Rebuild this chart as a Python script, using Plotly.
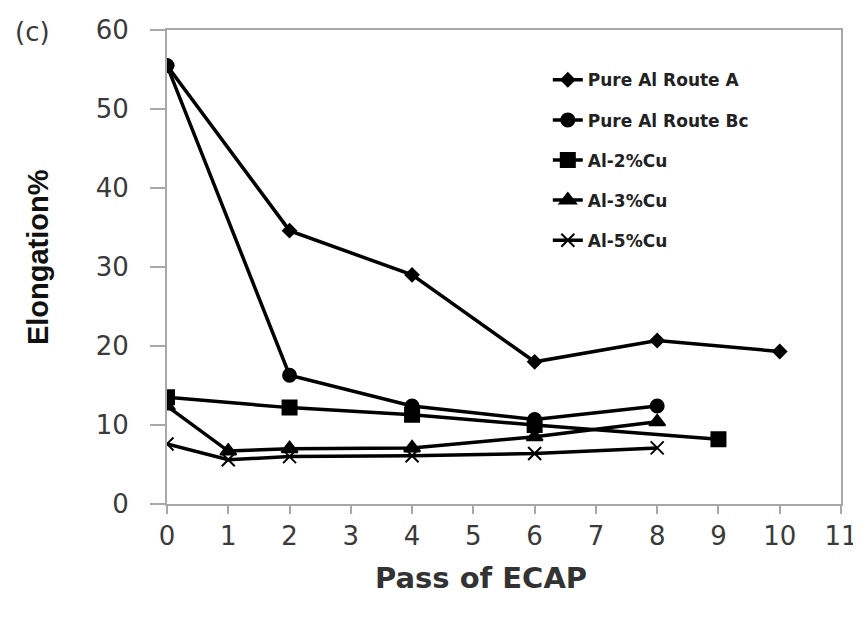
import plotly.graph_objects as go

passes_A = [0, 2, 4, 6, 8, 10]
elong_A = [55.5, 34.6, 29.0, 18.0, 20.7, 19.3]

passes_Bc = [0, 2, 4, 6, 8]
elong_Bc = [55.5, 16.3, 12.4, 10.7, 12.4]

passes_2Cu = [0, 2, 4, 6, 9]
elong_2Cu = [13.5, 12.2, 11.3, 10.0, 8.2]

passes_3Cu = [0, 1, 2, 4, 6, 8]
elong_3Cu = [12.4, 6.7, 7.0, 7.1, 8.5, 10.4]

passes_5Cu = [0, 1, 2, 4, 6, 8]
elong_5Cu = [7.6, 5.6, 6.0, 6.1, 6.4, 7.1]

x_ticks = list(range(0, 12))
y_ticks = [0, 10, 20, 30, 40, 50, 60]

series = [
    ("Pure Al Route A", passes_A, elong_A, "diamond", 10),
    ("Pure Al Route Bc", passes_Bc, elong_Bc, "circle", 13),
    ("Al-2%Cu", passes_2Cu, elong_2Cu, "square", 14),
    ("Al-3%Cu", passes_3Cu, elong_3Cu, "triangle-up", 14),
    ("Al-5%Cu", passes_5Cu, elong_5Cu, "x-thin", 13),
]

fig = go.Figure()
for i, (name, xs, ys, sym, sz) in enumerate(series):
    fig.add_trace(go.Scatter(
        x=xs, y=ys, name=name, mode="lines+markers", legendgroup=f"g{i}",
        line=dict(color="black", width=3.5),
        marker=dict(symbol=sym, size=sz, color="black",
                    line=dict(color="black", width=2)),
    ))

AXIS_GREY = "#a8a8a8"
TICK_FONT = dict(family="DejaVu Sans", size=26, color="#3a3a3a")

fig.update_layout(
    width=861, height=619,
    paper_bgcolor="white", plot_bgcolor="white",
    margin=dict(l=159, r=28, t=22, b=123, autoexpand=False),
    showlegend=True,
    legend=dict(
        x=0.565, y=0.932, xanchor="left", yanchor="top",
        bgcolor="rgba(255,255,255,0)",
        font=dict(family="DejaVu Sans", size=17, color="#222", weight="bold"),
        tracegroupgap=15,
        itemsizing="trace",
    ),
    xaxis=dict(
        range=[0, 11], tickvals=x_ticks, ticktext=[str(t) for t in x_ticks],
        showgrid=False, zeroline=False, automargin=False,
        showline=True, linecolor=AXIS_GREY, linewidth=2, mirror=True,
        ticks="outside", ticklen=8, tickcolor=AXIS_GREY, tickwidth=1.5,
        tickfont=TICK_FONT,
    ),
    yaxis=dict(
        range=[0, 60], tickvals=y_ticks, ticktext=[str(t) for t in y_ticks],
        showgrid=False, zeroline=False, automargin=False,
        showline=True, linecolor=AXIS_GREY, linewidth=2, mirror=True,
        ticks="outside", ticklen=15, tickcolor=AXIS_GREY, tickwidth=1.5,
        tickfont=TICK_FONT, ticklabelstandoff=16,
    ),
)

fig.add_annotation(text="(c)", xref="paper", yref="paper", x=-0.2285, y=0.996,
                   xanchor="left", yanchor="middle", showarrow=False,
                   font=TICK_FONT)
fig.add_annotation(text="<b>Pass of ECAP</b>", xref="paper", yref="paper",
                   x=0.466, y=-0.156, xanchor="center", yanchor="middle",
                   showarrow=False,
                   font=dict(family="DejaVu Sans", size=29, color="#333"))
fig.add_annotation(text="<b>Elongation%</b>", xref="paper", yref="paper",
                   x=-0.192, y=0.52, xanchor="center", yanchor="middle",
                   textangle=-90, showarrow=False,
                   font=dict(family="Liberation Sans Narrow, Liberation Sans",
                             size=29, color="#111"))

fig.write_html("out.html")
